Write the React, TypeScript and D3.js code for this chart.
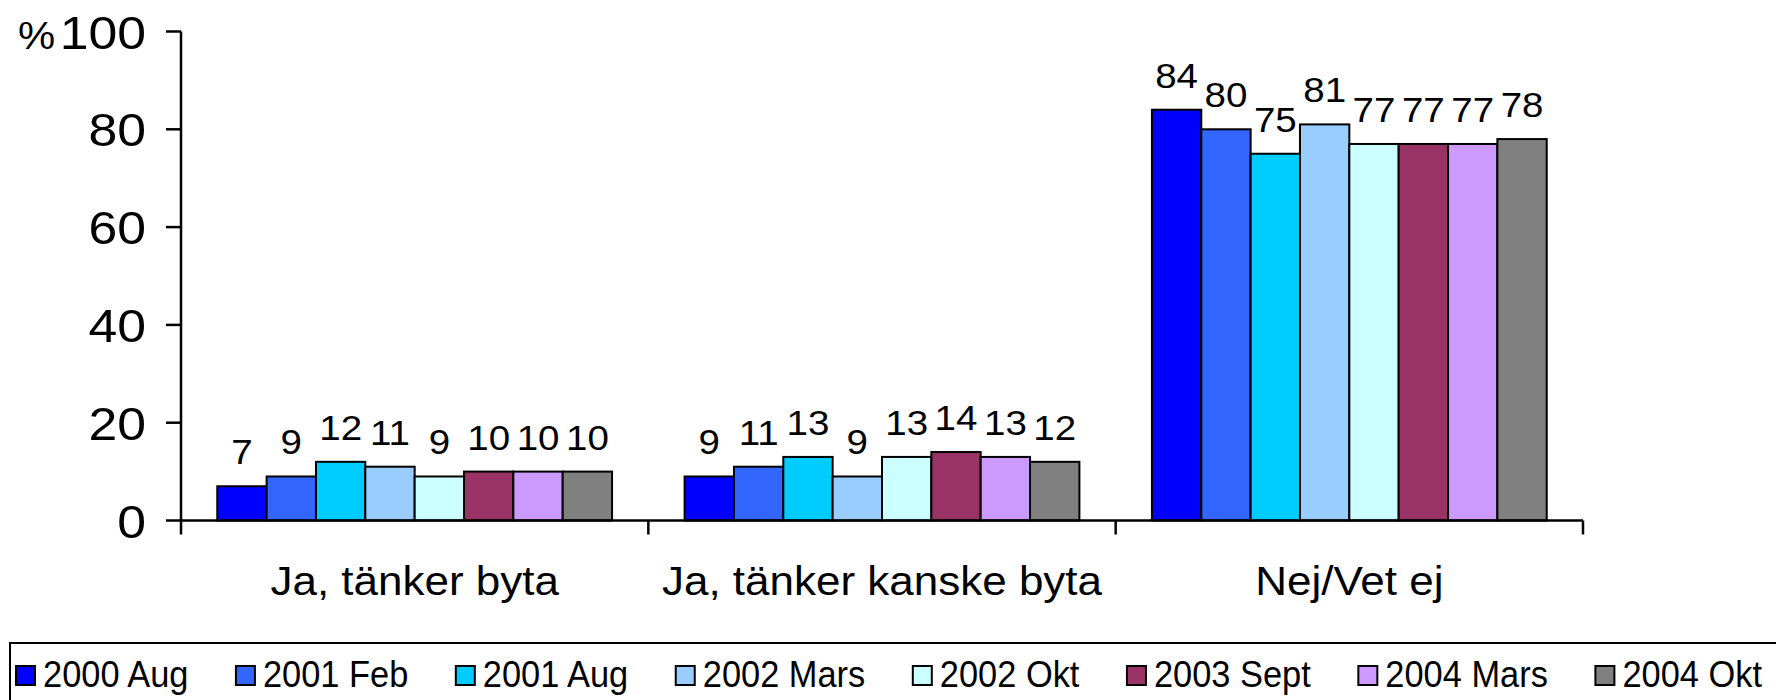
import React, { useEffect, useRef } from "react";
import * as d3 from "d3";

const categories = ["Ja, tänker byta", "Ja, tänker kanske byta", "Nej/Vet ej"];
const seriesNames = [
  "2000 Aug",
  "2001 Feb",
  "2001 Aug",
  "2002 Mars",
  "2002 Okt",
  "2003 Sept",
  "2004 Mars",
  "2004 Okt",
];
const seriesColors = [
  "#0000FF",
  "#3366FF",
  "#00CCFF",
  "#99CCFF",
  "#CCFFFF",
  "#993366",
  "#CC99FF",
  "#808080",
];
// values per category, in series order
const jaValues = [7, 9, 12, 11, 9, 10, 10, 10];
const kanskeValues = [9, 11, 13, 9, 13, 14, 13, 12];
const nejValues = [84, 80, 75, 81, 77, 77, 77, 78];
const yTicks = [0, 20, 40, 60, 80, 100];

const FONT = "Arial, 'Liberation Sans', sans-serif";
const SX = 1.1; // the original text is a bit wide
const LEGEND_SX = 0.93; // ...but the legend is narrow

export default function App() {
  const ref = useRef<SVGSVGElement>(null);

  useEffect(() => {
    const svg = d3.select(ref.current);
    svg.selectAll("*").remove();

    const left = 181;
    const right = 1583;
    const top = 31.5;
    const bottom = 520.5;

    const table = categories.map((c, i) => ({
      category: c,
      values: [jaValues, kanskeValues, nejValues][i],
    }));

    const x0 = d3.scaleBand<string>().domain(categories).range([left, right]).padding(0);
    const x1 = d3
      .scaleBand<string>()
      .domain(seriesNames)
      .range([0, x0.bandwidth()])
      .paddingInner(0)
      .paddingOuter(0.735);
    const y = d3.scaleLinear().domain([0, 100]).range([bottom, top]);

    const text = (g: any, x: number, yy: number, s: string, size: number, anchor: string, sx = SX) =>
      g
        .append("text")
        .attr("transform", `translate(${x},${yy}) scale(${sx},1)`)
        .attr("text-anchor", anchor)
        .attr("font-family", FONT)
        .attr("font-size", size)
        .attr("fill", "#000")
        .text(s);

    // bars
    table.forEach((row) => {
      const g = svg.append("g");
      row.values.forEach((v, i) => {
        const bx = x0(row.category)! + x1(seriesNames[i])!;
        g.append("rect")
          .attr("x", bx)
          .attr("y", y(v))
          .attr("width", x1.bandwidth())
          .attr("height", y(0) - y(v))
          .attr("fill", seriesColors[i])
          .attr("stroke", "#000")
          .attr("stroke-width", 2);
        text(g, bx + x1.bandwidth() / 2, y(v) - 22, String(v), 35, "middle");
      });
    });

    // y axis
    svg.append("line")
      .attr("x1", left).attr("x2", left)
      .attr("y1", y(100)).attr("y2", bottom + 14)
      .attr("stroke", "#000").attr("stroke-width", 2.5);
    yTicks.forEach((t) => {
      svg.append("line")
        .attr("x1", left - 15).attr("x2", left)
        .attr("y1", y(t)).attr("y2", y(t))
        .attr("stroke", "#000").attr("stroke-width", 2.5);
      text(svg, left - 35, y(t) + 17, String(t), 47, "end");
    });
    text(svg, 18, y(100) + 17, "%", 38, "start");

    // x axis
    svg.append("line")
      .attr("x1", left).attr("x2", right)
      .attr("y1", bottom).attr("y2", bottom)
      .attr("stroke", "#000").attr("stroke-width", 2.5);
    categories.forEach((c, i) => {
      const xs = x0(c)!;
      if (i > 0) {
        svg.append("line")
          .attr("x1", xs).attr("x2", xs)
          .attr("y1", bottom).attr("y2", bottom + 14)
          .attr("stroke", "#000").attr("stroke-width", 2.5);
      }
      text(svg, xs + x0.bandwidth() / 2, 595, c, 40, "middle");
    });
    svg.append("line")
      .attr("x1", right).attr("x2", right)
      .attr("y1", bottom).attr("y2", bottom + 14)
      .attr("stroke", "#000").attr("stroke-width", 2.5);

    // legend
    svg.append("rect")
      .attr("x", 10).attr("y", 643)
      .attr("width", 1800).attr("height", 120)
      .attr("fill", "#fff")
      .attr("stroke", "#000").attr("stroke-width", 2);

    const legend = svg.append("g");
    const labels = seriesNames.map((s) => text(legend, 0, 687, s, 37, "start", LEGEND_SX));
    const widths = labels.map((l) => (l.node() as SVGTextElement).getComputedTextLength() * LEGEND_SX);
    const sw = 19;
    const pad = 8;
    const startX = 16;
    const endX = 1762;
    const itemsW = d3.sum(widths.map((w) => sw + pad + w));
    const gap = (endX - startX - itemsW) / (seriesNames.length - 1);
    let cx = startX;
    seriesNames.forEach((s, i) => {
      legend.append("rect")
        .attr("x", cx).attr("y", 666)
        .attr("width", sw).attr("height", sw)
        .attr("fill", seriesColors[i])
        .attr("stroke", "#000").attr("stroke-width", 2);
      labels[i].attr("transform", `translate(${cx + sw + pad},687) scale(${LEGEND_SX},1)`);
      cx += sw + pad + widths[i] + gap;
    });
  }, []);

  return (
    <svg
      ref={ref}
      width={1776}
      height={700}
      style={{ position: "absolute", left: 0, top: 0, background: "#fff" }}
    />
  );
}
